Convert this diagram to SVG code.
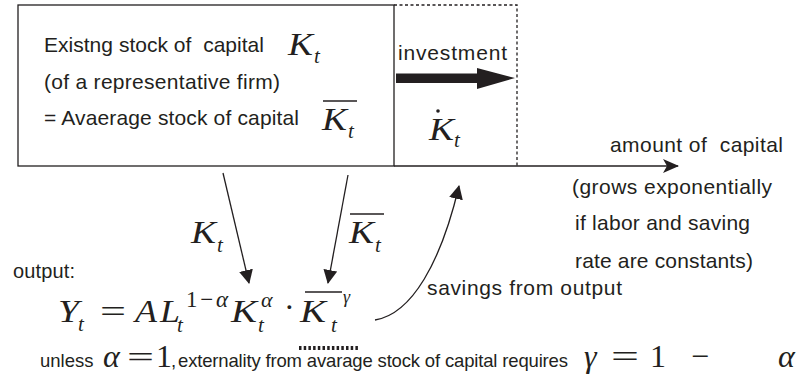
<svg xmlns="http://www.w3.org/2000/svg" width="812" height="381" viewBox="0 0 812 381">
<style>
.t{font-family:"Liberation Sans",Arial,sans-serif;fill:#231f20}
.m{font-family:"Liberation Serif","Times New Roman",serif;font-style:italic;fill:#231f20}
.r{font-family:"Liberation Serif","Times New Roman",serif;fill:#231f20}
.ln{stroke:#231f20;stroke-width:1.3;fill:none}
.bar{stroke:#231f20;stroke-width:1.6}
</style>
<defs>
<marker id="ah" viewBox="0 0 14 14" refX="13" refY="7" markerWidth="14" markerHeight="14" markerUnits="userSpaceOnUse" orient="auto">
<path d="M0,0 L14,7 L0,14 Z" fill="#231f20"/>
</marker>
<marker id="ah2" viewBox="0 0 16 14" refX="15" refY="7" markerWidth="16" markerHeight="14" markerUnits="userSpaceOnUse" orient="auto">
<path d="M0,0 L16,7 L0,14 L4,7 Z" fill="#231f20"/>
</marker>
</defs>
<rect width="812" height="381" fill="#fff"/>
<g id="stock">
<rect x="18" y="5" width="376" height="161" class="ln"/>
<text class="t" x="44" y="52" font-size="21" xml:space="preserve" textLength="220">Existng stock of  capital</text>
<text class="t" x="44" y="89" font-size="21" textLength="236">(of a representative firm)</text>
<text class="t" x="44" y="125" font-size="21" textLength="255">= Avaerage stock of capital</text>
<text class="m" x="288" y="55" font-size="32" textLength="25" lengthAdjust="spacingAndGlyphs">K</text>
<text class="m" x="314" y="63" font-size="21">t</text>
<text class="m" x="322" y="130" font-size="32" textLength="25" lengthAdjust="spacingAndGlyphs">K</text>
<line x1="323" y1="101" x2="357" y2="101" class="bar"/>
<text class="m" x="348" y="138" font-size="21">t</text>
</g>
<g id="investment">
<path d="M394,5 H517 V166" class="ln" stroke-dasharray="3,2.5"/>
<text class="t" x="398" y="60" font-size="21" textLength="109">investment</text>
<path d="M396,73.5 H477 V68 L515,78 L477,89 V83 H396 Z" fill="#231f20"/>
<text class="m" x="429" y="140" font-size="32" textLength="25" lengthAdjust="spacingAndGlyphs">K</text>
<circle cx="438" cy="111" r="1.8" fill="#231f20"/>
<text class="m" x="454" y="147" font-size="21">t</text>
</g>
<g id="capital-label">
<text class="t" x="610" y="152" font-size="21" xml:space="preserve" textLength="173">amount of  capital</text>
<text class="t" x="572" y="194" font-size="21" textLength="200">(grows exponentially</text>
<text class="t" x="575" y="230" font-size="21" textLength="175">if labor and saving</text>
<text class="t" x="575" y="268" font-size="21" textLength="178">rate are constants)</text>
</g>
<g id="output">
<text class="t" x="13" y="278" font-size="20" textLength="62">output:</text>
<text class="m" x="58" y="322" font-size="32" textLength="21" lengthAdjust="spacingAndGlyphs">Y</text>
<text class="m" x="78" y="331" font-size="21">t</text>
<text class="r" x="100" y="322" font-size="32" textLength="26" lengthAdjust="spacingAndGlyphs">=</text>
<text class="m" x="135" y="322" font-size="32" textLength="22" lengthAdjust="spacingAndGlyphs">A</text>
<text class="m" x="160" y="322" font-size="32" textLength="20" lengthAdjust="spacingAndGlyphs">L</text>
<text class="r" x="186" y="307" font-size="23" textLength="42">1−<tspan class="m">α</tspan></text>
<text class="m" x="177" y="332" font-size="21">t</text>
<text class="m" x="231" y="322" font-size="32" textLength="26" lengthAdjust="spacingAndGlyphs">K</text>
<text class="m" x="261" y="307" font-size="22">α</text>
<text class="m" x="258" y="332" font-size="21">t</text>
<text class="r" x="284" y="318" font-size="32">·</text>
<text class="m" x="300" y="322" font-size="32" textLength="26" lengthAdjust="spacingAndGlyphs">K</text>
<line x1="305" y1="292" x2="342" y2="292" class="bar"/>
<text class="m" x="343" y="303" font-size="18">γ</text>
<text class="m" x="331" y="332" font-size="21">t</text>
<line x1="299" y1="348" x2="358" y2="348" stroke="#231f20" stroke-width="4" stroke-dasharray="2.5,2.2"/>
</g>
<g id="note">
<text class="t" x="40" y="367" font-size="18.5">unless</text>
<text class="m" x="103" y="367" font-size="32">α</text>
<text class="r" x="127" y="367" font-size="30" textLength="27" lengthAdjust="spacingAndGlyphs">=</text>
<text class="r" x="156" y="367" font-size="32">1</text>
<text class="t" x="171" y="367" font-size="18.5">,</text>
<text class="t" x="178" y="367" font-size="18.5" textLength="390">externality from avarage stock of capital requires</text>
<text class="m" x="584" y="367" font-size="32">γ</text>
<text class="r" x="611" y="367" font-size="32" textLength="28" lengthAdjust="spacingAndGlyphs">=</text>
<text class="r" x="650" y="367" font-size="32">1</text>
<text class="r" x="691" y="367" font-size="32">−</text>
<text class="m" x="778" y="367" font-size="32">α</text>
</g>
<g id="savings-label">
<text class="t" x="427" y="295" font-size="21" textLength="195">savings from output</text>
</g>
<g id="connectors">
<line x1="394" y1="166" x2="678" y2="166" class="ln" marker-end="url(#ah2)"/>
<line x1="223" y1="173" x2="249" y2="283" class="ln" marker-end="url(#ah)"/>
<line x1="348" y1="175" x2="328" y2="283" class="ln" marker-end="url(#ah)"/>
<path d="M375,320 C412,314 441,262 459,186" class="ln" marker-end="url(#ah)"/>
<text class="m" x="191" y="243" font-size="32" textLength="25" lengthAdjust="spacingAndGlyphs">K</text>
<text class="m" x="217" y="252" font-size="21">t</text>
<text class="m" x="349" y="243" font-size="32" textLength="25" lengthAdjust="spacingAndGlyphs">K</text>
<line x1="350" y1="214" x2="384" y2="214" class="bar"/>
<text class="m" x="375" y="252" font-size="21">t</text>
</g>
</svg>
